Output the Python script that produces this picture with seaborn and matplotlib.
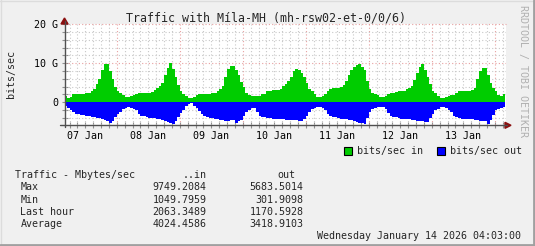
import numpy as np
import pandas as pd
import matplotlib
matplotlib.use("Agg")
import matplotlib.pyplot as plt
import seaborn as sns
from matplotlib.lines import Line2D
from matplotlib.patches import Rectangle, Polygon

# ---------------- data (Gbit/s, hourly, each day list = 04:00 .. 03:00 next day) -------------
in_d1 = [1.5, 1.2, 1.4, 2.0, 2.1, 2.2, 2.2, 2.2, 2.3, 2.5, 2.8, 3.4, 4.7, 5.9, 8.2, 9.7, 9.9, 8.0, 6.1, 4.0, 3.0, 2.3, 1.9, 1.4]
in_d2 = [1.3, 1.6, 1.9, 2.0, 2.3, 2.3, 2.4, 2.5, 2.5, 2.7, 3.1, 3.6, 4.2, 5.0, 7.0, 8.8, 10.0, 8.6, 6.5, 4.5, 3.0, 2.0, 1.5, 1.2]
in_d3 = [1.0, 1.3, 1.8, 2.0, 2.0, 2.1, 2.1, 2.2, 2.3, 2.5, 2.9, 3.4, 4.2, 6.5, 8.6, 9.3, 9.2, 8.4, 7.0, 5.2, 4.0, 2.5, 1.9, 1.6]
in_d4 = [1.6, 1.5, 1.6, 2.0, 2.2, 2.9, 3.0, 3.1, 3.1, 3.2, 3.5, 4.1, 4.7, 5.5, 6.6, 8.0, 8.5, 8.3, 7.6, 6.6, 5.0, 3.5, 3.0, 2.0]
in_d5 = [1.4, 1.4, 1.6, 2.2, 3.0, 3.4, 3.6, 3.6, 3.7, 4.0, 4.4, 5.5, 7.0, 8.2, 9.1, 9.6, 9.8, 9.0, 8.4, 5.5, 3.5, 2.4, 2.1, 1.9]
in_d6 = [1.4, 1.3, 1.6, 2.1, 2.4, 2.5, 2.7, 3.0, 3.0, 3.0, 3.3, 3.6, 4.3, 5.8, 7.5, 9.1, 9.75, 8.4, 6.6, 4.6, 3.0, 2.4, 1.6, 1.2]
in_d7 = [1.05, 1.4, 1.7, 1.9, 1.9, 2.4, 2.8, 2.9, 2.9, 2.9, 2.9, 3.2, 3.7, 6.0, 8.0, 8.8, 8.9, 7.0, 5.0, 3.6, 2.8, 1.9, 1.6, 2.0]

out_d1 = [0.9, 1.5, 1.9, 2.5, 3.0, 3.1, 3.2, 3.3, 3.5, 3.6, 3.7, 3.8, 4.0, 4.1, 4.4, 4.6, 4.9, 5.3, 4.9, 3.8, 3.1, 2.4, 1.8, 1.4]
out_d2 = [1.3, 1.4, 1.7, 2.0, 3.1, 3.5, 3.6, 3.7, 4.0, 4.1, 4.1, 4.3, 4.3, 4.5, 4.7, 5.0, 5.3, 5.6, 4.9, 3.8, 2.8, 2.0, 1.0, 0.4]
out_d3 = [0.3, 0.9, 1.5, 2.2, 3.0, 3.6, 3.8, 4.1, 4.1, 4.2, 4.4, 4.5, 4.6, 4.7, 4.7, 4.6, 4.5, 5.2, 4.9, 4.5, 3.6, 2.6, 2.0, 1.4]
out_d4 = [1.5, 2.6, 3.5, 3.7, 3.8, 4.0, 4.1, 4.3, 4.3, 4.3, 4.3, 4.4, 4.5, 4.5, 4.5, 4.5, 4.6, 4.7, 4.7, 4.3, 3.5, 2.6, 1.8, 1.4]
out_d5 = [1.1, 1.1, 1.4, 2.0, 3.0, 3.4, 3.8, 3.8, 4.0, 4.3, 4.3, 4.4, 4.5, 4.6, 4.9, 5.0, 5.3, 5.4, 5.68, 4.0, 2.4, 1.6, 1.4, 1.3]
out_d6 = [1.3, 1.3, 1.8, 2.8, 3.5, 3.8, 3.8, 3.9, 4.2, 4.2, 4.2, 4.3, 4.5, 4.5, 4.7, 4.9, 4.9, 5.1, 5.0, 4.0, 3.0, 2.0, 1.6, 1.3]
out_d7 = [1.3, 1.5, 2.0, 2.5, 3.5, 3.8, 4.0, 4.2, 4.2, 4.2, 4.2, 4.3, 4.5, 4.5, 4.7, 4.9, 4.9, 5.6, 4.5, 3.2, 2.0, 1.7, 1.5, 1.2]

day_labels = ["07 Jan", "08 Jan", "09 Jan", "10 Jan", "11 Jan", "12 Jan", "13 Jan"]
y_tick_values = [0, 10, 20]
y_tick_labels = ["0", "10 G", "20 G"]

stats_title = "Traffic - Mbytes/sec"
stats_rows = ["Max", "Min", "Last hour", "Average"]
stats_in = ["9749.2084", "1049.7959", "2063.3489", "4024.4586"]
stats_out = ["5683.5014", "301.9098", "1170.5928", "3418.9103"]

title = "Traffic with Míla-MH (mh-rsw02-et-0/0/6)"
footer = "Wednesday January 14 2026 04:03:00"
legend_labels = ["bits/sec in", "bits/sec out"]

# ---------------- build table -------------
in_vals = in_d1 + in_d2 + in_d3 + in_d4 + in_d5 + in_d6 + in_d7
out_vals = out_d1 + out_d2 + out_d3 + out_d4 + out_d5 + out_d6 + out_d7
hours = 4.5 + np.arange(len(in_vals))  # hours since 07 Jan 00:00, bar centres
df = pd.DataFrame({"hour": hours, "in": in_vals, "out": -np.array(out_vals)})

# ---------------- style -------------
sns.set_style("white")
plt.rcParams["font.family"] = ["DejaVu Sans Mono"]
FS = 7.2

W, H = 535, 246
fig = plt.figure(figsize=(W / 100, H / 100), dpi=100)
fig.patch.set_facecolor("#F0F0F0")


def fx(x):
    return x / W


def fy(y):
    return 1 - y / H


AX_L, AX_R, AX_T, AX_B = 64.5, 505.5, 24.3, 125.3
ax = fig.add_axes([fx(AX_L), fy(AX_B), (AX_R - AX_L) / W, (AX_B - AX_T) / H])
ax.set_facecolor("white")

GREEN = "#00CC00"
BLUE = "#0000FF"

sns.barplot(data=df, x="hour", y="in", native_scale=True, width=1, color=GREEN,
            saturation=1, linewidth=0, errorbar=None, ax=ax, antialiased=False, zorder=3)
sns.barplot(data=df, x="hour", y="out", native_scale=True, width=1, color=BLUE,
            saturation=1, linewidth=0, errorbar=None, ax=ax, antialiased=False, zorder=3)

X0, X1 = 4.05, 172.05
ax.set_xlim(X0, X1)
ax.set_ylim(-5.9, 20)
ax.set_xlabel("")
ax.set_ylabel("")
for s in ax.spines.values():
    s.set_visible(False)

# grid
MINOR_C = "#C8C8C8"
MAJOR_C = "#E8A0A0"
dots = (0, (1, 2))
for t in np.arange(6, X1, 3):
    if t % 24 == 0:
        ax.axvline(t, color=MAJOR_C, lw=0.8, ls=dots, zorder=1)
    else:
        ax.axvline(t, color=MINOR_C, lw=0.8, ls=dots, zorder=1)
for v in np.arange(-4, 20, 2):
    if v == 0:
        continue
    if v % 10 == 0:
        ax.axhline(v, color=MAJOR_C, lw=0.8, ls=dots, zorder=1)
    else:
        ax.axhline(v, color=MINOR_C, lw=0.8, ls=dots, zorder=1)
ax.axhline(20, color=MAJOR_C, lw=0.8, ls=dots, zorder=1, clip_on=False)

# ticks
ax.xaxis.remove_overlapping_locs = False
ax.yaxis.remove_overlapping_locs = False
ax.set_xticks(np.arange(12, 24 * 7 + 1, 24))
ax.set_xticklabels(day_labels, fontsize=FS)
ax.set_xticks(np.arange(6, X1, 3), minor=True)
ax.set_yticks(y_tick_values)
ax.set_yticklabels(y_tick_labels, fontsize=FS)
ax.set_yticks(np.arange(-4, 21, 2), minor=True)
ax.tick_params(axis="x", which="major", length=0, pad=4.2, labelcolor="black")
ax.tick_params(axis="y", which="major", length=0, pad=4.6, labelcolor="black")
ax.tick_params(which="minor", direction="inout", length=4, width=0.8, color="#909090",
               bottom=True, left=True)
for t, tk in zip(ax.xaxis.get_minorticklocs(), ax.xaxis.get_minor_ticks()):
    if t % 24 == 0:
        tk.tick1line.set_color("#E04040")
for v, tk in zip(ax.yaxis.get_minorticklocs(), ax.yaxis.get_minor_ticks()):
    if v % 10 == 0:
        tk.tick1line.set_color("#E04040")

# axis lines with arrows
AXC = "#505050"
ARC = "#8B1010"
fig.add_artist(Line2D([fx(60), fx(507)], [fy(AX_B), fy(AX_B)], color=AXC, lw=1))
fig.add_artist(Line2D([fx(AX_L), fx(AX_L)], [fy(AX_B + 2), fy(21)], color=AXC, lw=1))
fig.add_artist(Polygon([(fx(505), fy(AX_B - 3)), (fx(505), fy(AX_B + 3)), (fx(511), fy(AX_B))],
                       closed=True, color=ARC, transform=fig.transFigure))
fig.add_artist(Polygon([(fx(AX_L - 3.5), fy(24)), (fx(AX_L + 3.5), fy(24)), (fx(AX_L), fy(18))],
                       closed=True, color=ARC, transform=fig.transFigure))

# texts
fig.text(fx(266.5), fy(21.2), title, fontsize=8.4, ha="center", va="baseline")
fig.text(fx(11), fy(74), "bits/sec", fontsize=FS, rotation=90, ha="center", va="center")
fig.text(fx(523), fy(71), "RRDTOOL / TOBI OETIKER", fontsize=FS, rotation=270,
         ha="center", va="center", color="#B0B0B0")

# legend
for (x0, lab, col) in [(344, legend_labels[0], GREEN), (437, legend_labels[1], BLUE)]:
    fig.add_artist(Rectangle((fx(x0), fy(154.5)), 7.5 / W, 7.5 / H, facecolor=col,
                             edgecolor="black", lw=0.8, transform=fig.transFigure))
    fig.text(fx(x0 + 13), fy(154.2), lab, fontsize=FS, ha="left", va="baseline")

# stats table
fig.text(fx(14.7), fy(177.8), stats_title, fontsize=FS, ha="left", va="baseline")
fig.text(fx(206.5), fy(177.8), "..in", fontsize=FS, ha="right", va="baseline")
fig.text(fx(295.6), fy(177.8), "out", fontsize=FS, ha="right", va="baseline")
for i, (r, vi, vo) in enumerate(zip(stats_rows, stats_in, stats_out)):
    yb = 190.3 + i * 12.3
    fig.text(fx(20.5), fy(yb), r, fontsize=FS, ha="left", va="baseline")
    fig.text(fx(206.5), fy(yb), vi, fontsize=FS, ha="right", va="baseline")
    fig.text(fx(303.8), fy(yb), vo, fontsize=FS, ha="right", va="baseline")
fig.text(fx(521), fy(239.3), footer, fontsize=FS, ha="right", va="baseline")

# outer 3D border
fig.add_artist(Line2D([0, 1], [fy(0.5), fy(0.5)], color="#DCDCDC", lw=1))
fig.add_artist(Line2D([fx(0.5), fx(0.5)], [0, 1], color="#DCDCDC", lw=1))
fig.add_artist(Line2D([0, 1], [fy(H - 1.0), fy(H - 1.0)], color="#A0A0A0", lw=2))
fig.add_artist(Line2D([fx(W - 1.0), fx(W - 1.0)], [0, 1], color="#A0A0A0", lw=2))

fig.savefig("out.png", dpi=100, facecolor=fig.get_facecolor())
